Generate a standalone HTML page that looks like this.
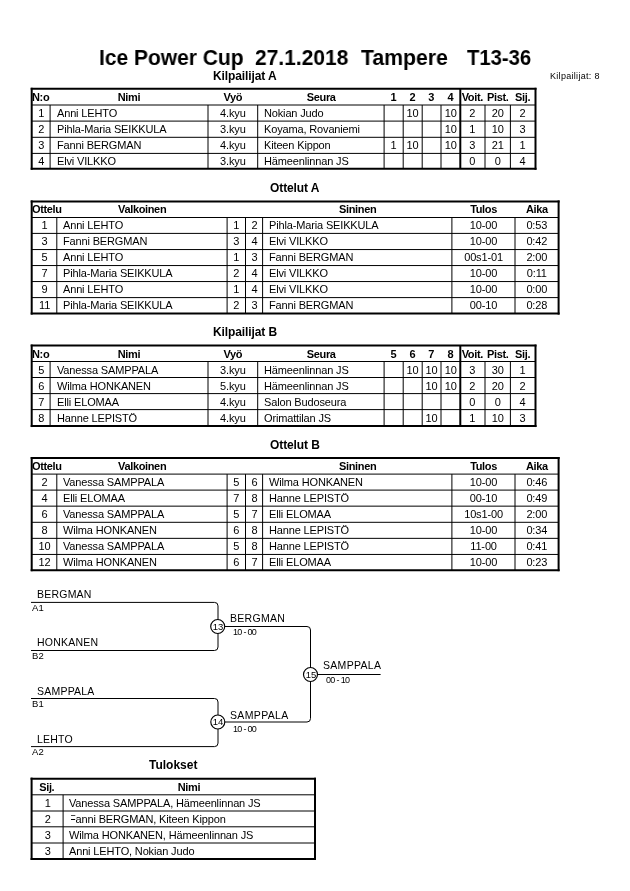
<!DOCTYPE html>
<html><head><meta charset="utf-8"><style>
html,body{margin:0;padding:0;background:#fff;}
body{-webkit-font-smoothing:antialiased;position:relative;width:630px;height:891px;overflow:hidden;font-family:"Liberation Sans",sans-serif;color:#000;}
b{position:absolute;display:block;will-change:transform;font-weight:normal;white-space:nowrap;}
</style></head><body>
<svg style="position:absolute;left:0;top:0" width="630" height="891"><line x1="30.7" y1="88.8" x2="536.5" y2="88.8" stroke="#000" stroke-width="2.0"/><line x1="30.7" y1="168.8" x2="536.5" y2="168.8" stroke="#000" stroke-width="2.0"/><line x1="31.7" y1="87.8" x2="31.7" y2="169.8" stroke="#000" stroke-width="2.0"/><line x1="535.5" y1="87.8" x2="535.5" y2="169.8" stroke="#000" stroke-width="2.0"/><line x1="31.7" y1="105.0" x2="535.5" y2="105.0" stroke="#000" stroke-width="1"/><line x1="31.7" y1="121.1" x2="535.5" y2="121.1" stroke="#000" stroke-width="1"/><line x1="31.7" y1="137.3" x2="535.5" y2="137.3" stroke="#000" stroke-width="1"/><line x1="31.7" y1="153.4" x2="535.5" y2="153.4" stroke="#000" stroke-width="1"/><line x1="50.1" y1="105.0" x2="50.1" y2="168.8" stroke="#000" stroke-width="1"/><line x1="208.0" y1="105.0" x2="208.0" y2="168.8" stroke="#000" stroke-width="1"/><line x1="257.7" y1="105.0" x2="257.7" y2="168.8" stroke="#000" stroke-width="1"/><line x1="384.1" y1="105.0" x2="384.1" y2="168.8" stroke="#000" stroke-width="1"/><line x1="403.2" y1="105.0" x2="403.2" y2="168.8" stroke="#000" stroke-width="1"/><line x1="422.2" y1="105.0" x2="422.2" y2="168.8" stroke="#000" stroke-width="1"/><line x1="441.0" y1="105.0" x2="441.0" y2="168.8" stroke="#000" stroke-width="1"/><line x1="460.3" y1="88.8" x2="460.3" y2="168.8" stroke="#000" stroke-width="2.0"/><line x1="485.0" y1="105.0" x2="485.0" y2="168.8" stroke="#000" stroke-width="1"/><line x1="510.4" y1="105.0" x2="510.4" y2="168.8" stroke="#000" stroke-width="1"/><line x1="30.7" y1="201.4" x2="559.6" y2="201.4" stroke="#000" stroke-width="2.0"/><line x1="30.7" y1="313.6" x2="559.6" y2="313.6" stroke="#000" stroke-width="2.0"/><line x1="31.7" y1="200.4" x2="31.7" y2="314.6" stroke="#000" stroke-width="2.0"/><line x1="558.6" y1="200.4" x2="558.6" y2="314.6" stroke="#000" stroke-width="2.0"/><line x1="31.7" y1="217.5" x2="558.6" y2="217.5" stroke="#000" stroke-width="1"/><line x1="31.7" y1="233.4" x2="558.6" y2="233.4" stroke="#000" stroke-width="1"/><line x1="31.7" y1="249.55" x2="558.6" y2="249.55" stroke="#000" stroke-width="1"/><line x1="31.7" y1="265.55" x2="558.6" y2="265.55" stroke="#000" stroke-width="1"/><line x1="31.7" y1="281.55" x2="558.6" y2="281.55" stroke="#000" stroke-width="1"/><line x1="31.7" y1="297.6" x2="558.6" y2="297.6" stroke="#000" stroke-width="1"/><line x1="56.8" y1="217.5" x2="56.8" y2="313.6" stroke="#000" stroke-width="1"/><line x1="227.1" y1="217.5" x2="227.1" y2="313.6" stroke="#000" stroke-width="1"/><line x1="245.5" y1="217.5" x2="245.5" y2="313.6" stroke="#000" stroke-width="1"/><line x1="262.6" y1="217.5" x2="262.6" y2="313.6" stroke="#000" stroke-width="1"/><line x1="451.9" y1="217.5" x2="451.9" y2="313.6" stroke="#000" stroke-width="1"/><line x1="515.0" y1="217.5" x2="515.0" y2="313.6" stroke="#000" stroke-width="1"/><line x1="30.7" y1="345.6" x2="536.5" y2="345.6" stroke="#000" stroke-width="2.0"/><line x1="30.7" y1="426.05" x2="536.5" y2="426.05" stroke="#000" stroke-width="2.0"/><line x1="31.7" y1="344.6" x2="31.7" y2="427.05" stroke="#000" stroke-width="2.0"/><line x1="535.5" y1="344.6" x2="535.5" y2="427.05" stroke="#000" stroke-width="2.0"/><line x1="31.7" y1="361.5" x2="535.5" y2="361.5" stroke="#000" stroke-width="1"/><line x1="31.7" y1="377.5" x2="535.5" y2="377.5" stroke="#000" stroke-width="1"/><line x1="31.7" y1="393.6" x2="535.5" y2="393.6" stroke="#000" stroke-width="1"/><line x1="31.7" y1="409.6" x2="535.5" y2="409.6" stroke="#000" stroke-width="1"/><line x1="50.1" y1="361.5" x2="50.1" y2="426.05" stroke="#000" stroke-width="1"/><line x1="208.0" y1="361.5" x2="208.0" y2="426.05" stroke="#000" stroke-width="1"/><line x1="257.7" y1="361.5" x2="257.7" y2="426.05" stroke="#000" stroke-width="1"/><line x1="384.1" y1="361.5" x2="384.1" y2="426.05" stroke="#000" stroke-width="1"/><line x1="403.2" y1="361.5" x2="403.2" y2="426.05" stroke="#000" stroke-width="1"/><line x1="422.2" y1="361.5" x2="422.2" y2="426.05" stroke="#000" stroke-width="1"/><line x1="441.0" y1="361.5" x2="441.0" y2="426.05" stroke="#000" stroke-width="1"/><line x1="460.3" y1="345.6" x2="460.3" y2="426.05" stroke="#000" stroke-width="2.0"/><line x1="485.0" y1="361.5" x2="485.0" y2="426.05" stroke="#000" stroke-width="1"/><line x1="510.4" y1="361.5" x2="510.4" y2="426.05" stroke="#000" stroke-width="1"/><line x1="30.7" y1="458.0" x2="559.6" y2="458.0" stroke="#000" stroke-width="2.0"/><line x1="30.7" y1="570.2" x2="559.6" y2="570.2" stroke="#000" stroke-width="2.0"/><line x1="31.7" y1="457.0" x2="31.7" y2="571.2" stroke="#000" stroke-width="2.0"/><line x1="558.6" y1="457.0" x2="558.6" y2="571.2" stroke="#000" stroke-width="2.0"/><line x1="31.7" y1="474.1" x2="558.6" y2="474.1" stroke="#000" stroke-width="1"/><line x1="31.7" y1="490.1" x2="558.6" y2="490.1" stroke="#000" stroke-width="1"/><line x1="31.7" y1="506.15" x2="558.6" y2="506.15" stroke="#000" stroke-width="1"/><line x1="31.7" y1="522.3" x2="558.6" y2="522.3" stroke="#000" stroke-width="1"/><line x1="31.7" y1="538.35" x2="558.6" y2="538.35" stroke="#000" stroke-width="1"/><line x1="31.7" y1="554.45" x2="558.6" y2="554.45" stroke="#000" stroke-width="1"/><line x1="56.8" y1="474.1" x2="56.8" y2="570.2" stroke="#000" stroke-width="1"/><line x1="227.1" y1="474.1" x2="227.1" y2="570.2" stroke="#000" stroke-width="1"/><line x1="245.5" y1="474.1" x2="245.5" y2="570.2" stroke="#000" stroke-width="1"/><line x1="262.6" y1="474.1" x2="262.6" y2="570.2" stroke="#000" stroke-width="1"/><line x1="451.9" y1="474.1" x2="451.9" y2="570.2" stroke="#000" stroke-width="1"/><line x1="515.0" y1="474.1" x2="515.0" y2="570.2" stroke="#000" stroke-width="1"/><path d="M31 602.4 H214.5 Q218.0 602.4 218.0 605.9 V647.0 Q218.0 650.5 214.5 650.5 H31" fill="none" stroke="#000" stroke-width="1.0"/><path d="M31 698.5 H214.5 Q218.0 698.5 218.0 702.0 V743.1 Q218.0 746.6 214.5 746.6 H31" fill="none" stroke="#000" stroke-width="1.0"/><path d="M218.0 626.5 H307.0 Q310.5 626.5 310.5 630.0 V718.5 Q310.5 722.0 307.0 722.0 H218.0" fill="none" stroke="#000" stroke-width="1.0"/><path d="M310.5 674.5 H380.6" fill="none" stroke="#000" stroke-width="1.0"/><circle cx="217.7" cy="626.5" r="7.0" fill="#fff" stroke="#000" stroke-width="1.15"/><circle cx="217.8" cy="722.0" r="7.0" fill="#fff" stroke="#000" stroke-width="1.15"/><circle cx="310.5" cy="674.5" r="7.0" fill="#fff" stroke="#000" stroke-width="1.15"/><line x1="30.6" y1="778.65" x2="316.0" y2="778.65" stroke="#000" stroke-width="2.0"/><line x1="30.6" y1="859.0" x2="316.0" y2="859.0" stroke="#000" stroke-width="2.0"/><line x1="31.6" y1="777.65" x2="31.6" y2="860.0" stroke="#000" stroke-width="2.0"/><line x1="315.0" y1="777.65" x2="315.0" y2="860.0" stroke="#000" stroke-width="2.0"/><line x1="31.6" y1="794.8" x2="315.0" y2="794.8" stroke="#000" stroke-width="1"/><line x1="31.6" y1="811.0" x2="315.0" y2="811.0" stroke="#000" stroke-width="1"/><line x1="31.6" y1="826.8" x2="315.0" y2="826.8" stroke="#000" stroke-width="1"/><line x1="31.6" y1="843.0" x2="315.0" y2="843.0" stroke="#000" stroke-width="1"/><line x1="63.1" y1="794.8" x2="63.1" y2="859.0" stroke="#000" stroke-width="1"/></svg>
<b style="left:99.26732026143792px;top:47.00px;font-size:22.5px;line-height:22.5px;font-weight:bold;transform:scaleX(0.9327);transform-origin:0 0;">Ice Power Cup</b>
<b style="left:254.76666666666665px;top:47.00px;font-size:22.5px;line-height:22.5px;font-weight:bold;transform:scaleX(0.9333);transform-origin:0 0;">27.1.2018</b>
<b style="left:361.0px;top:47.00px;font-size:22.5px;line-height:22.5px;font-weight:bold;transform:scaleX(0.9440);transform-origin:0 0;">Tampere</b>
<b style="left:467.0px;top:47.00px;font-size:22.5px;line-height:22.5px;font-weight:bold;transform:scaleX(0.9000);transform-origin:0 0;">T13-36</b>
<b style="left:550px;top:72.00px;font-size:9px;line-height:9px;letter-spacing:0.3px;">Kilpailijat: 8</b>
<b style="left:213.4px;top:70.00px;font-size:12px;line-height:12px;font-weight:bold;letter-spacing:-0.1px;">Kilpailijat A</b>
<b style="left:32.3px;top:92.00px;font-size:11px;line-height:11px;font-weight:bold;letter-spacing:-0.35px;">N:o</b>
<b style="left:50.1px;top:92.00px;font-size:11px;line-height:11px;font-weight:bold;letter-spacing:-0.35px;width:157.9px;text-align:center;">Nimi</b>
<b style="left:208.0px;top:92.00px;font-size:11px;line-height:11px;font-weight:bold;letter-spacing:-0.35px;width:49.69999999999999px;text-align:center;">Vyö</b>
<b style="left:257.7px;top:92.00px;font-size:11px;line-height:11px;font-weight:bold;letter-spacing:-0.35px;width:126.40000000000003px;text-align:center;">Seura</b>
<b style="left:384.1px;top:92.00px;font-size:11px;line-height:11px;font-weight:bold;width:19.099999999999966px;text-align:center;">1</b>
<b style="left:403.2px;top:92.00px;font-size:11px;line-height:11px;font-weight:bold;width:19.0px;text-align:center;">2</b>
<b style="left:422.2px;top:92.00px;font-size:11px;line-height:11px;font-weight:bold;width:18.80000000000001px;text-align:center;">3</b>
<b style="left:441.0px;top:92.00px;font-size:11px;line-height:11px;font-weight:bold;width:19.30000000000001px;text-align:center;">4</b>
<b style="left:460.3px;top:92.00px;font-size:11px;line-height:11px;font-weight:bold;letter-spacing:-0.35px;width:24.69999999999999px;text-align:center;">Voit.</b>
<b style="left:485.0px;top:92.00px;font-size:11px;line-height:11px;font-weight:bold;letter-spacing:-0.35px;width:25.399999999999977px;text-align:center;">Pist.</b>
<b style="left:510.4px;top:92.00px;font-size:11px;line-height:11px;font-weight:bold;letter-spacing:-0.35px;width:25.100000000000023px;text-align:center;">Sij.</b>
<b style="left:31.7px;top:108.00px;font-size:11px;line-height:11px;letter-spacing:-0.15px;width:18.400000000000002px;text-align:center;">1</b>
<b style="left:57px;top:108.00px;font-size:11px;line-height:11px;letter-spacing:-0.15px;">Anni LEHTO</b>
<b style="left:208.0px;top:108.00px;font-size:11px;line-height:11px;letter-spacing:-0.15px;width:49.69999999999999px;text-align:center;">4.kyu</b>
<b style="left:263.5px;top:108.00px;font-size:11px;line-height:11px;letter-spacing:-0.15px;">Nokian Judo</b>
<b style="left:403.2px;top:108.00px;font-size:11px;line-height:11px;letter-spacing:-0.15px;width:19.0px;text-align:center;">10</b>
<b style="left:441.0px;top:108.00px;font-size:11px;line-height:11px;letter-spacing:-0.15px;width:19.30000000000001px;text-align:center;">10</b>
<b style="left:460.3px;top:108.00px;font-size:11px;line-height:11px;letter-spacing:-0.15px;width:24.69999999999999px;text-align:center;">2</b>
<b style="left:485.0px;top:108.00px;font-size:11px;line-height:11px;letter-spacing:-0.15px;width:25.399999999999977px;text-align:center;">20</b>
<b style="left:510.4px;top:108.00px;font-size:11px;line-height:11px;letter-spacing:-0.15px;width:25.100000000000023px;text-align:center;">2</b>
<b style="left:31.7px;top:124.00px;font-size:11px;line-height:11px;letter-spacing:-0.15px;width:18.400000000000002px;text-align:center;">2</b>
<b style="left:57px;top:124.00px;font-size:11px;line-height:11px;letter-spacing:-0.15px;">Pihla-Maria SEIKKULA</b>
<b style="left:208.0px;top:124.00px;font-size:11px;line-height:11px;letter-spacing:-0.15px;width:49.69999999999999px;text-align:center;">3.kyu</b>
<b style="left:263.5px;top:124.00px;font-size:11px;line-height:11px;letter-spacing:-0.15px;">Koyama, Rovaniemi</b>
<b style="left:441.0px;top:124.00px;font-size:11px;line-height:11px;letter-spacing:-0.15px;width:19.30000000000001px;text-align:center;">10</b>
<b style="left:460.3px;top:124.00px;font-size:11px;line-height:11px;letter-spacing:-0.15px;width:24.69999999999999px;text-align:center;">1</b>
<b style="left:485.0px;top:124.00px;font-size:11px;line-height:11px;letter-spacing:-0.15px;width:25.399999999999977px;text-align:center;">10</b>
<b style="left:510.4px;top:124.00px;font-size:11px;line-height:11px;letter-spacing:-0.15px;width:25.100000000000023px;text-align:center;">3</b>
<b style="left:31.7px;top:140.00px;font-size:11px;line-height:11px;letter-spacing:-0.15px;width:18.400000000000002px;text-align:center;">3</b>
<b style="left:57px;top:140.00px;font-size:11px;line-height:11px;letter-spacing:-0.15px;">Fanni BERGMAN</b>
<b style="left:208.0px;top:140.00px;font-size:11px;line-height:11px;letter-spacing:-0.15px;width:49.69999999999999px;text-align:center;">4.kyu</b>
<b style="left:263.5px;top:140.00px;font-size:11px;line-height:11px;letter-spacing:-0.15px;">Kiteen Kippon</b>
<b style="left:384.1px;top:140.00px;font-size:11px;line-height:11px;letter-spacing:-0.15px;width:19.099999999999966px;text-align:center;">1</b>
<b style="left:403.2px;top:140.00px;font-size:11px;line-height:11px;letter-spacing:-0.15px;width:19.0px;text-align:center;">10</b>
<b style="left:441.0px;top:140.00px;font-size:11px;line-height:11px;letter-spacing:-0.15px;width:19.30000000000001px;text-align:center;">10</b>
<b style="left:460.3px;top:140.00px;font-size:11px;line-height:11px;letter-spacing:-0.15px;width:24.69999999999999px;text-align:center;">3</b>
<b style="left:485.0px;top:140.00px;font-size:11px;line-height:11px;letter-spacing:-0.15px;width:25.399999999999977px;text-align:center;">21</b>
<b style="left:510.4px;top:140.00px;font-size:11px;line-height:11px;letter-spacing:-0.15px;width:25.100000000000023px;text-align:center;">1</b>
<b style="left:31.7px;top:156.00px;font-size:11px;line-height:11px;letter-spacing:-0.15px;width:18.400000000000002px;text-align:center;">4</b>
<b style="left:57px;top:156.00px;font-size:11px;line-height:11px;letter-spacing:-0.15px;">Elvi VILKKO</b>
<b style="left:208.0px;top:156.00px;font-size:11px;line-height:11px;letter-spacing:-0.15px;width:49.69999999999999px;text-align:center;">3.kyu</b>
<b style="left:263.5px;top:156.00px;font-size:11px;line-height:11px;letter-spacing:-0.15px;">Hämeenlinnan JS</b>
<b style="left:460.3px;top:156.00px;font-size:11px;line-height:11px;letter-spacing:-0.15px;width:24.69999999999999px;text-align:center;">0</b>
<b style="left:485.0px;top:156.00px;font-size:11px;line-height:11px;letter-spacing:-0.15px;width:25.399999999999977px;text-align:center;">0</b>
<b style="left:510.4px;top:156.00px;font-size:11px;line-height:11px;letter-spacing:-0.15px;width:25.100000000000023px;text-align:center;">4</b>
<b style="left:269.5px;top:182.00px;font-size:12px;line-height:12px;font-weight:bold;letter-spacing:-0.1px;">Ottelut A</b>
<b style="left:32.3px;top:204.00px;font-size:11px;line-height:11px;font-weight:bold;letter-spacing:-0.35px;">Ottelu</b>
<b style="left:56.8px;top:204.00px;font-size:11px;line-height:11px;font-weight:bold;letter-spacing:-0.35px;width:170.3px;text-align:center;">Valkoinen</b>
<b style="left:262.6px;top:204.00px;font-size:11px;line-height:11px;font-weight:bold;letter-spacing:-0.35px;width:189.29999999999995px;text-align:center;">Sininen</b>
<b style="left:451.9px;top:204.00px;font-size:11px;line-height:11px;font-weight:bold;letter-spacing:-0.35px;width:63.10000000000002px;text-align:center;">Tulos</b>
<b style="left:515.0px;top:204.00px;font-size:11px;line-height:11px;font-weight:bold;letter-spacing:-0.35px;width:43.60000000000002px;text-align:center;">Aika</b>
<b style="left:31.7px;top:220.00px;font-size:11px;line-height:11px;letter-spacing:-0.15px;width:25.099999999999998px;text-align:center;">1</b>
<b style="left:63px;top:220.00px;font-size:11px;line-height:11px;letter-spacing:-0.15px;">Anni LEHTO</b>
<b style="left:227.1px;top:220.00px;font-size:11px;line-height:11px;letter-spacing:-0.15px;width:18.400000000000006px;text-align:center;">1</b>
<b style="left:245.5px;top:220.00px;font-size:11px;line-height:11px;letter-spacing:-0.15px;width:17.100000000000023px;text-align:center;">2</b>
<b style="left:269px;top:220.00px;font-size:11px;line-height:11px;letter-spacing:-0.15px;">Pihla-Maria SEIKKULA</b>
<b style="left:451.9px;top:220.00px;font-size:11px;line-height:11px;letter-spacing:-0.15px;width:63.10000000000002px;text-align:center;">10-00</b>
<b style="left:515.0px;top:220.00px;font-size:11px;line-height:11px;letter-spacing:-0.15px;width:43.60000000000002px;text-align:center;">0:53</b>
<b style="left:31.7px;top:236.00px;font-size:11px;line-height:11px;letter-spacing:-0.15px;width:25.099999999999998px;text-align:center;">3</b>
<b style="left:63px;top:236.00px;font-size:11px;line-height:11px;letter-spacing:-0.15px;">Fanni BERGMAN</b>
<b style="left:227.1px;top:236.00px;font-size:11px;line-height:11px;letter-spacing:-0.15px;width:18.400000000000006px;text-align:center;">3</b>
<b style="left:245.5px;top:236.00px;font-size:11px;line-height:11px;letter-spacing:-0.15px;width:17.100000000000023px;text-align:center;">4</b>
<b style="left:269px;top:236.00px;font-size:11px;line-height:11px;letter-spacing:-0.15px;">Elvi VILKKO</b>
<b style="left:451.9px;top:236.00px;font-size:11px;line-height:11px;letter-spacing:-0.15px;width:63.10000000000002px;text-align:center;">10-00</b>
<b style="left:515.0px;top:236.00px;font-size:11px;line-height:11px;letter-spacing:-0.15px;width:43.60000000000002px;text-align:center;">0:42</b>
<b style="left:31.7px;top:252.00px;font-size:11px;line-height:11px;letter-spacing:-0.15px;width:25.099999999999998px;text-align:center;">5</b>
<b style="left:63px;top:252.00px;font-size:11px;line-height:11px;letter-spacing:-0.15px;">Anni LEHTO</b>
<b style="left:227.1px;top:252.00px;font-size:11px;line-height:11px;letter-spacing:-0.15px;width:18.400000000000006px;text-align:center;">1</b>
<b style="left:245.5px;top:252.00px;font-size:11px;line-height:11px;letter-spacing:-0.15px;width:17.100000000000023px;text-align:center;">3</b>
<b style="left:269px;top:252.00px;font-size:11px;line-height:11px;letter-spacing:-0.15px;">Fanni BERGMAN</b>
<b style="left:451.9px;top:252.00px;font-size:11px;line-height:11px;letter-spacing:-0.15px;width:63.10000000000002px;text-align:center;">00s1-01</b>
<b style="left:515.0px;top:252.00px;font-size:11px;line-height:11px;letter-spacing:-0.15px;width:43.60000000000002px;text-align:center;">2:00</b>
<b style="left:31.7px;top:268.00px;font-size:11px;line-height:11px;letter-spacing:-0.15px;width:25.099999999999998px;text-align:center;">7</b>
<b style="left:63px;top:268.00px;font-size:11px;line-height:11px;letter-spacing:-0.15px;">Pihla-Maria SEIKKULA</b>
<b style="left:227.1px;top:268.00px;font-size:11px;line-height:11px;letter-spacing:-0.15px;width:18.400000000000006px;text-align:center;">2</b>
<b style="left:245.5px;top:268.00px;font-size:11px;line-height:11px;letter-spacing:-0.15px;width:17.100000000000023px;text-align:center;">4</b>
<b style="left:269px;top:268.00px;font-size:11px;line-height:11px;letter-spacing:-0.15px;">Elvi VILKKO</b>
<b style="left:451.9px;top:268.00px;font-size:11px;line-height:11px;letter-spacing:-0.15px;width:63.10000000000002px;text-align:center;">10-00</b>
<b style="left:515.0px;top:268.00px;font-size:11px;line-height:11px;letter-spacing:-0.15px;width:43.60000000000002px;text-align:center;">0:11</b>
<b style="left:31.7px;top:284.00px;font-size:11px;line-height:11px;letter-spacing:-0.15px;width:25.099999999999998px;text-align:center;">9</b>
<b style="left:63px;top:284.00px;font-size:11px;line-height:11px;letter-spacing:-0.15px;">Anni LEHTO</b>
<b style="left:227.1px;top:284.00px;font-size:11px;line-height:11px;letter-spacing:-0.15px;width:18.400000000000006px;text-align:center;">1</b>
<b style="left:245.5px;top:284.00px;font-size:11px;line-height:11px;letter-spacing:-0.15px;width:17.100000000000023px;text-align:center;">4</b>
<b style="left:269px;top:284.00px;font-size:11px;line-height:11px;letter-spacing:-0.15px;">Elvi VILKKO</b>
<b style="left:451.9px;top:284.00px;font-size:11px;line-height:11px;letter-spacing:-0.15px;width:63.10000000000002px;text-align:center;">10-00</b>
<b style="left:515.0px;top:284.00px;font-size:11px;line-height:11px;letter-spacing:-0.15px;width:43.60000000000002px;text-align:center;">0:00</b>
<b style="left:31.7px;top:300.00px;font-size:11px;line-height:11px;letter-spacing:-0.15px;width:25.099999999999998px;text-align:center;">11</b>
<b style="left:63px;top:300.00px;font-size:11px;line-height:11px;letter-spacing:-0.15px;">Pihla-Maria SEIKKULA</b>
<b style="left:227.1px;top:300.00px;font-size:11px;line-height:11px;letter-spacing:-0.15px;width:18.400000000000006px;text-align:center;">2</b>
<b style="left:245.5px;top:300.00px;font-size:11px;line-height:11px;letter-spacing:-0.15px;width:17.100000000000023px;text-align:center;">3</b>
<b style="left:269px;top:300.00px;font-size:11px;line-height:11px;letter-spacing:-0.15px;">Fanni BERGMAN</b>
<b style="left:451.9px;top:300.00px;font-size:11px;line-height:11px;letter-spacing:-0.15px;width:63.10000000000002px;text-align:center;">00-10</b>
<b style="left:515.0px;top:300.00px;font-size:11px;line-height:11px;letter-spacing:-0.15px;width:43.60000000000002px;text-align:center;">0:28</b>
<b style="left:213.4px;top:326.00px;font-size:12px;line-height:12px;font-weight:bold;letter-spacing:-0.1px;">Kilpailijat B</b>
<b style="left:32.3px;top:349.00px;font-size:11px;line-height:11px;font-weight:bold;letter-spacing:-0.35px;">N:o</b>
<b style="left:50.1px;top:349.00px;font-size:11px;line-height:11px;font-weight:bold;letter-spacing:-0.35px;width:157.9px;text-align:center;">Nimi</b>
<b style="left:208.0px;top:349.00px;font-size:11px;line-height:11px;font-weight:bold;letter-spacing:-0.35px;width:49.69999999999999px;text-align:center;">Vyö</b>
<b style="left:257.7px;top:349.00px;font-size:11px;line-height:11px;font-weight:bold;letter-spacing:-0.35px;width:126.40000000000003px;text-align:center;">Seura</b>
<b style="left:384.1px;top:349.00px;font-size:11px;line-height:11px;font-weight:bold;width:19.099999999999966px;text-align:center;">5</b>
<b style="left:403.2px;top:349.00px;font-size:11px;line-height:11px;font-weight:bold;width:19.0px;text-align:center;">6</b>
<b style="left:422.2px;top:349.00px;font-size:11px;line-height:11px;font-weight:bold;width:18.80000000000001px;text-align:center;">7</b>
<b style="left:441.0px;top:349.00px;font-size:11px;line-height:11px;font-weight:bold;width:19.30000000000001px;text-align:center;">8</b>
<b style="left:460.3px;top:349.00px;font-size:11px;line-height:11px;font-weight:bold;letter-spacing:-0.35px;width:24.69999999999999px;text-align:center;">Voit.</b>
<b style="left:485.0px;top:349.00px;font-size:11px;line-height:11px;font-weight:bold;letter-spacing:-0.35px;width:25.399999999999977px;text-align:center;">Pist.</b>
<b style="left:510.4px;top:349.00px;font-size:11px;line-height:11px;font-weight:bold;letter-spacing:-0.35px;width:25.100000000000023px;text-align:center;">Sij.</b>
<b style="left:31.7px;top:365.00px;font-size:11px;line-height:11px;letter-spacing:-0.15px;width:18.400000000000002px;text-align:center;">5</b>
<b style="left:57px;top:365.00px;font-size:11px;line-height:11px;letter-spacing:-0.15px;">Vanessa SAMPPALA</b>
<b style="left:208.0px;top:365.00px;font-size:11px;line-height:11px;letter-spacing:-0.15px;width:49.69999999999999px;text-align:center;">3.kyu</b>
<b style="left:263.5px;top:365.00px;font-size:11px;line-height:11px;letter-spacing:-0.15px;">Hämeenlinnan JS</b>
<b style="left:403.2px;top:365.00px;font-size:11px;line-height:11px;letter-spacing:-0.15px;width:19.0px;text-align:center;">10</b>
<b style="left:422.2px;top:365.00px;font-size:11px;line-height:11px;letter-spacing:-0.15px;width:18.80000000000001px;text-align:center;">10</b>
<b style="left:441.0px;top:365.00px;font-size:11px;line-height:11px;letter-spacing:-0.15px;width:19.30000000000001px;text-align:center;">10</b>
<b style="left:460.3px;top:365.00px;font-size:11px;line-height:11px;letter-spacing:-0.15px;width:24.69999999999999px;text-align:center;">3</b>
<b style="left:485.0px;top:365.00px;font-size:11px;line-height:11px;letter-spacing:-0.15px;width:25.399999999999977px;text-align:center;">30</b>
<b style="left:510.4px;top:365.00px;font-size:11px;line-height:11px;letter-spacing:-0.15px;width:25.100000000000023px;text-align:center;">1</b>
<b style="left:31.7px;top:381.00px;font-size:11px;line-height:11px;letter-spacing:-0.15px;width:18.400000000000002px;text-align:center;">6</b>
<b style="left:57px;top:381.00px;font-size:11px;line-height:11px;letter-spacing:-0.15px;">Wilma HONKANEN</b>
<b style="left:208.0px;top:381.00px;font-size:11px;line-height:11px;letter-spacing:-0.15px;width:49.69999999999999px;text-align:center;">5.kyu</b>
<b style="left:263.5px;top:381.00px;font-size:11px;line-height:11px;letter-spacing:-0.15px;">Hämeenlinnan JS</b>
<b style="left:422.2px;top:381.00px;font-size:11px;line-height:11px;letter-spacing:-0.15px;width:18.80000000000001px;text-align:center;">10</b>
<b style="left:441.0px;top:381.00px;font-size:11px;line-height:11px;letter-spacing:-0.15px;width:19.30000000000001px;text-align:center;">10</b>
<b style="left:460.3px;top:381.00px;font-size:11px;line-height:11px;letter-spacing:-0.15px;width:24.69999999999999px;text-align:center;">2</b>
<b style="left:485.0px;top:381.00px;font-size:11px;line-height:11px;letter-spacing:-0.15px;width:25.399999999999977px;text-align:center;">20</b>
<b style="left:510.4px;top:381.00px;font-size:11px;line-height:11px;letter-spacing:-0.15px;width:25.100000000000023px;text-align:center;">2</b>
<b style="left:31.7px;top:397.00px;font-size:11px;line-height:11px;letter-spacing:-0.15px;width:18.400000000000002px;text-align:center;">7</b>
<b style="left:57px;top:397.00px;font-size:11px;line-height:11px;letter-spacing:-0.15px;">Elli ELOMAA</b>
<b style="left:208.0px;top:397.00px;font-size:11px;line-height:11px;letter-spacing:-0.15px;width:49.69999999999999px;text-align:center;">4.kyu</b>
<b style="left:263.5px;top:397.00px;font-size:11px;line-height:11px;letter-spacing:-0.15px;">Salon Budoseura</b>
<b style="left:460.3px;top:397.00px;font-size:11px;line-height:11px;letter-spacing:-0.15px;width:24.69999999999999px;text-align:center;">0</b>
<b style="left:485.0px;top:397.00px;font-size:11px;line-height:11px;letter-spacing:-0.15px;width:25.399999999999977px;text-align:center;">0</b>
<b style="left:510.4px;top:397.00px;font-size:11px;line-height:11px;letter-spacing:-0.15px;width:25.100000000000023px;text-align:center;">4</b>
<b style="left:31.7px;top:413.00px;font-size:11px;line-height:11px;letter-spacing:-0.15px;width:18.400000000000002px;text-align:center;">8</b>
<b style="left:57px;top:413.00px;font-size:11px;line-height:11px;letter-spacing:-0.15px;">Hanne LEPISTÖ</b>
<b style="left:208.0px;top:413.00px;font-size:11px;line-height:11px;letter-spacing:-0.15px;width:49.69999999999999px;text-align:center;">4.kyu</b>
<b style="left:263.5px;top:413.00px;font-size:11px;line-height:11px;letter-spacing:-0.15px;">Orimattilan JS</b>
<b style="left:422.2px;top:413.00px;font-size:11px;line-height:11px;letter-spacing:-0.15px;width:18.80000000000001px;text-align:center;">10</b>
<b style="left:460.3px;top:413.00px;font-size:11px;line-height:11px;letter-spacing:-0.15px;width:24.69999999999999px;text-align:center;">1</b>
<b style="left:485.0px;top:413.00px;font-size:11px;line-height:11px;letter-spacing:-0.15px;width:25.399999999999977px;text-align:center;">10</b>
<b style="left:510.4px;top:413.00px;font-size:11px;line-height:11px;letter-spacing:-0.15px;width:25.100000000000023px;text-align:center;">3</b>
<b style="left:269.5px;top:439.00px;font-size:12px;line-height:12px;font-weight:bold;letter-spacing:-0.1px;">Ottelut B</b>
<b style="left:32.3px;top:461.00px;font-size:11px;line-height:11px;font-weight:bold;letter-spacing:-0.35px;">Ottelu</b>
<b style="left:56.8px;top:461.00px;font-size:11px;line-height:11px;font-weight:bold;letter-spacing:-0.35px;width:170.3px;text-align:center;">Valkoinen</b>
<b style="left:262.6px;top:461.00px;font-size:11px;line-height:11px;font-weight:bold;letter-spacing:-0.35px;width:189.29999999999995px;text-align:center;">Sininen</b>
<b style="left:451.9px;top:461.00px;font-size:11px;line-height:11px;font-weight:bold;letter-spacing:-0.35px;width:63.10000000000002px;text-align:center;">Tulos</b>
<b style="left:515.0px;top:461.00px;font-size:11px;line-height:11px;font-weight:bold;letter-spacing:-0.35px;width:43.60000000000002px;text-align:center;">Aika</b>
<b style="left:31.7px;top:477.00px;font-size:11px;line-height:11px;letter-spacing:-0.15px;width:25.099999999999998px;text-align:center;">2</b>
<b style="left:63px;top:477.00px;font-size:11px;line-height:11px;letter-spacing:-0.15px;">Vanessa SAMPPALA</b>
<b style="left:227.1px;top:477.00px;font-size:11px;line-height:11px;letter-spacing:-0.15px;width:18.400000000000006px;text-align:center;">5</b>
<b style="left:245.5px;top:477.00px;font-size:11px;line-height:11px;letter-spacing:-0.15px;width:17.100000000000023px;text-align:center;">6</b>
<b style="left:269px;top:477.00px;font-size:11px;line-height:11px;letter-spacing:-0.15px;">Wilma HONKANEN</b>
<b style="left:451.9px;top:477.00px;font-size:11px;line-height:11px;letter-spacing:-0.15px;width:63.10000000000002px;text-align:center;">10-00</b>
<b style="left:515.0px;top:477.00px;font-size:11px;line-height:11px;letter-spacing:-0.15px;width:43.60000000000002px;text-align:center;">0:46</b>
<b style="left:31.7px;top:493.00px;font-size:11px;line-height:11px;letter-spacing:-0.15px;width:25.099999999999998px;text-align:center;">4</b>
<b style="left:63px;top:493.00px;font-size:11px;line-height:11px;letter-spacing:-0.15px;">Elli ELOMAA</b>
<b style="left:227.1px;top:493.00px;font-size:11px;line-height:11px;letter-spacing:-0.15px;width:18.400000000000006px;text-align:center;">7</b>
<b style="left:245.5px;top:493.00px;font-size:11px;line-height:11px;letter-spacing:-0.15px;width:17.100000000000023px;text-align:center;">8</b>
<b style="left:269px;top:493.00px;font-size:11px;line-height:11px;letter-spacing:-0.15px;">Hanne LEPISTÖ</b>
<b style="left:451.9px;top:493.00px;font-size:11px;line-height:11px;letter-spacing:-0.15px;width:63.10000000000002px;text-align:center;">00-10</b>
<b style="left:515.0px;top:493.00px;font-size:11px;line-height:11px;letter-spacing:-0.15px;width:43.60000000000002px;text-align:center;">0:49</b>
<b style="left:31.7px;top:509.00px;font-size:11px;line-height:11px;letter-spacing:-0.15px;width:25.099999999999998px;text-align:center;">6</b>
<b style="left:63px;top:509.00px;font-size:11px;line-height:11px;letter-spacing:-0.15px;">Vanessa SAMPPALA</b>
<b style="left:227.1px;top:509.00px;font-size:11px;line-height:11px;letter-spacing:-0.15px;width:18.400000000000006px;text-align:center;">5</b>
<b style="left:245.5px;top:509.00px;font-size:11px;line-height:11px;letter-spacing:-0.15px;width:17.100000000000023px;text-align:center;">7</b>
<b style="left:269px;top:509.00px;font-size:11px;line-height:11px;letter-spacing:-0.15px;">Elli ELOMAA</b>
<b style="left:451.9px;top:509.00px;font-size:11px;line-height:11px;letter-spacing:-0.15px;width:63.10000000000002px;text-align:center;">10s1-00</b>
<b style="left:515.0px;top:509.00px;font-size:11px;line-height:11px;letter-spacing:-0.15px;width:43.60000000000002px;text-align:center;">2:00</b>
<b style="left:31.7px;top:525.00px;font-size:11px;line-height:11px;letter-spacing:-0.15px;width:25.099999999999998px;text-align:center;">8</b>
<b style="left:63px;top:525.00px;font-size:11px;line-height:11px;letter-spacing:-0.15px;">Wilma HONKANEN</b>
<b style="left:227.1px;top:525.00px;font-size:11px;line-height:11px;letter-spacing:-0.15px;width:18.400000000000006px;text-align:center;">6</b>
<b style="left:245.5px;top:525.00px;font-size:11px;line-height:11px;letter-spacing:-0.15px;width:17.100000000000023px;text-align:center;">8</b>
<b style="left:269px;top:525.00px;font-size:11px;line-height:11px;letter-spacing:-0.15px;">Hanne LEPISTÖ</b>
<b style="left:451.9px;top:525.00px;font-size:11px;line-height:11px;letter-spacing:-0.15px;width:63.10000000000002px;text-align:center;">10-00</b>
<b style="left:515.0px;top:525.00px;font-size:11px;line-height:11px;letter-spacing:-0.15px;width:43.60000000000002px;text-align:center;">0:34</b>
<b style="left:31.7px;top:541.00px;font-size:11px;line-height:11px;letter-spacing:-0.15px;width:25.099999999999998px;text-align:center;">10</b>
<b style="left:63px;top:541.00px;font-size:11px;line-height:11px;letter-spacing:-0.15px;">Vanessa SAMPPALA</b>
<b style="left:227.1px;top:541.00px;font-size:11px;line-height:11px;letter-spacing:-0.15px;width:18.400000000000006px;text-align:center;">5</b>
<b style="left:245.5px;top:541.00px;font-size:11px;line-height:11px;letter-spacing:-0.15px;width:17.100000000000023px;text-align:center;">8</b>
<b style="left:269px;top:541.00px;font-size:11px;line-height:11px;letter-spacing:-0.15px;">Hanne LEPISTÖ</b>
<b style="left:451.9px;top:541.00px;font-size:11px;line-height:11px;letter-spacing:-0.15px;width:63.10000000000002px;text-align:center;">11-00</b>
<b style="left:515.0px;top:541.00px;font-size:11px;line-height:11px;letter-spacing:-0.15px;width:43.60000000000002px;text-align:center;">0:41</b>
<b style="left:31.7px;top:557.00px;font-size:11px;line-height:11px;letter-spacing:-0.15px;width:25.099999999999998px;text-align:center;">12</b>
<b style="left:63px;top:557.00px;font-size:11px;line-height:11px;letter-spacing:-0.15px;">Wilma HONKANEN</b>
<b style="left:227.1px;top:557.00px;font-size:11px;line-height:11px;letter-spacing:-0.15px;width:18.400000000000006px;text-align:center;">6</b>
<b style="left:245.5px;top:557.00px;font-size:11px;line-height:11px;letter-spacing:-0.15px;width:17.100000000000023px;text-align:center;">7</b>
<b style="left:269px;top:557.00px;font-size:11px;line-height:11px;letter-spacing:-0.15px;">Elli ELOMAA</b>
<b style="left:451.9px;top:557.00px;font-size:11px;line-height:11px;letter-spacing:-0.15px;width:63.10000000000002px;text-align:center;">10-00</b>
<b style="left:515.0px;top:557.00px;font-size:11px;line-height:11px;letter-spacing:-0.15px;width:43.60000000000002px;text-align:center;">0:23</b>
<b style="left:36.9px;top:589.00px;font-size:10.5px;line-height:10.5px;letter-spacing:0.22px;">BERGMAN</b>
<b style="left:31.8px;top:603.00px;font-size:9.5px;line-height:9.5px;letter-spacing:0.25px;">A1</b>
<b style="left:36.9px;top:637.00px;font-size:10.5px;line-height:10.5px;letter-spacing:0.22px;">HONKANEN</b>
<b style="left:31.8px;top:651.00px;font-size:9.5px;line-height:9.5px;letter-spacing:0.25px;">B2</b>
<b style="left:36.9px;top:686.00px;font-size:10.5px;line-height:10.5px;letter-spacing:0.22px;">SAMPPALA</b>
<b style="left:31.8px;top:699.00px;font-size:9.5px;line-height:9.5px;letter-spacing:0.25px;">B1</b>
<b style="left:36.9px;top:734.00px;font-size:10.5px;line-height:10.5px;letter-spacing:0.22px;">LEHTO</b>
<b style="left:31.8px;top:747.00px;font-size:9.5px;line-height:9.5px;letter-spacing:0.25px;">A2</b>
<b style="left:229.8px;top:613.00px;font-size:10.5px;line-height:10.5px;letter-spacing:0.3px;">BERGMAN</b>
<b style="left:233.2px;top:628.00px;font-size:9px;line-height:9px;letter-spacing:-0.7px;">10 - 00</b>
<b style="left:229.8px;top:710.00px;font-size:10.5px;line-height:10.5px;letter-spacing:0.35px;">SAMPPALA</b>
<b style="left:233.2px;top:725.00px;font-size:9px;line-height:9px;letter-spacing:-0.7px;">10 - 00</b>
<b style="left:322.8px;top:660.00px;font-size:10.5px;line-height:10.5px;letter-spacing:0.3px;">SAMPPALA</b>
<b style="left:326.2px;top:676.00px;font-size:9px;line-height:9px;letter-spacing:-0.65px;">00 - 10</b>
<b style="left:149.0px;top:759.00px;font-size:12px;line-height:12px;font-weight:bold;">Tulokset</b>
<b style="left:30.6px;top:782.00px;font-size:11px;line-height:11px;font-weight:bold;letter-spacing:-0.35px;width:31.5px;text-align:center;">Sij.</b>
<b style="left:63.1px;top:782.00px;font-size:11px;line-height:11px;font-weight:bold;letter-spacing:-0.35px;width:251.9px;text-align:center;">Nimi</b>
<b style="left:31.6px;top:798.00px;font-size:11px;line-height:11px;letter-spacing:-0.15px;width:31.5px;text-align:center;">1</b>
<b style="left:69px;top:798.00px;font-size:11px;line-height:11px;letter-spacing:-0.15px;">Vanessa SAMPPALA, Hämeenlinnan JS</b>
<b style="left:31.6px;top:814.00px;font-size:11px;line-height:11px;letter-spacing:-0.15px;width:31.5px;text-align:center;">2</b>
<b style="left:69px;top:814.00px;font-size:11px;line-height:11px;letter-spacing:-0.15px;">Fanni BERGMAN, Kiteen Kippon</b>
<b style="left:31.6px;top:830.00px;font-size:11px;line-height:11px;letter-spacing:-0.15px;width:31.5px;text-align:center;">3</b>
<b style="left:69px;top:830.00px;font-size:11px;line-height:11px;letter-spacing:-0.15px;">Wilma HONKANEN, Hämeenlinnan JS</b>
<b style="left:31.6px;top:846.00px;font-size:11px;line-height:11px;letter-spacing:-0.15px;width:31.5px;text-align:center;">3</b>
<b style="left:69px;top:846.00px;font-size:11px;line-height:11px;letter-spacing:-0.15px;">Anni LEHTO, Nokian Judo</b>
<i style="position:absolute;left:69px;top:815px;width:2px;height:8px;background:#fff;z-index:5"></i>
<b style="left:208.0px;top:622.00px;font-size:9.5px;line-height:9.5px;letter-spacing:-0.1px;width:20.0px;text-align:center;">13</b>
<b style="left:208.10000000000002px;top:717.00px;font-size:9.5px;line-height:9.5px;letter-spacing:-0.1px;width:20.0px;text-align:center;">14</b>
<b style="left:300.8px;top:670.00px;font-size:9.5px;line-height:9.5px;letter-spacing:-0.1px;width:20.0px;text-align:center;">15</b>
</body></html>
